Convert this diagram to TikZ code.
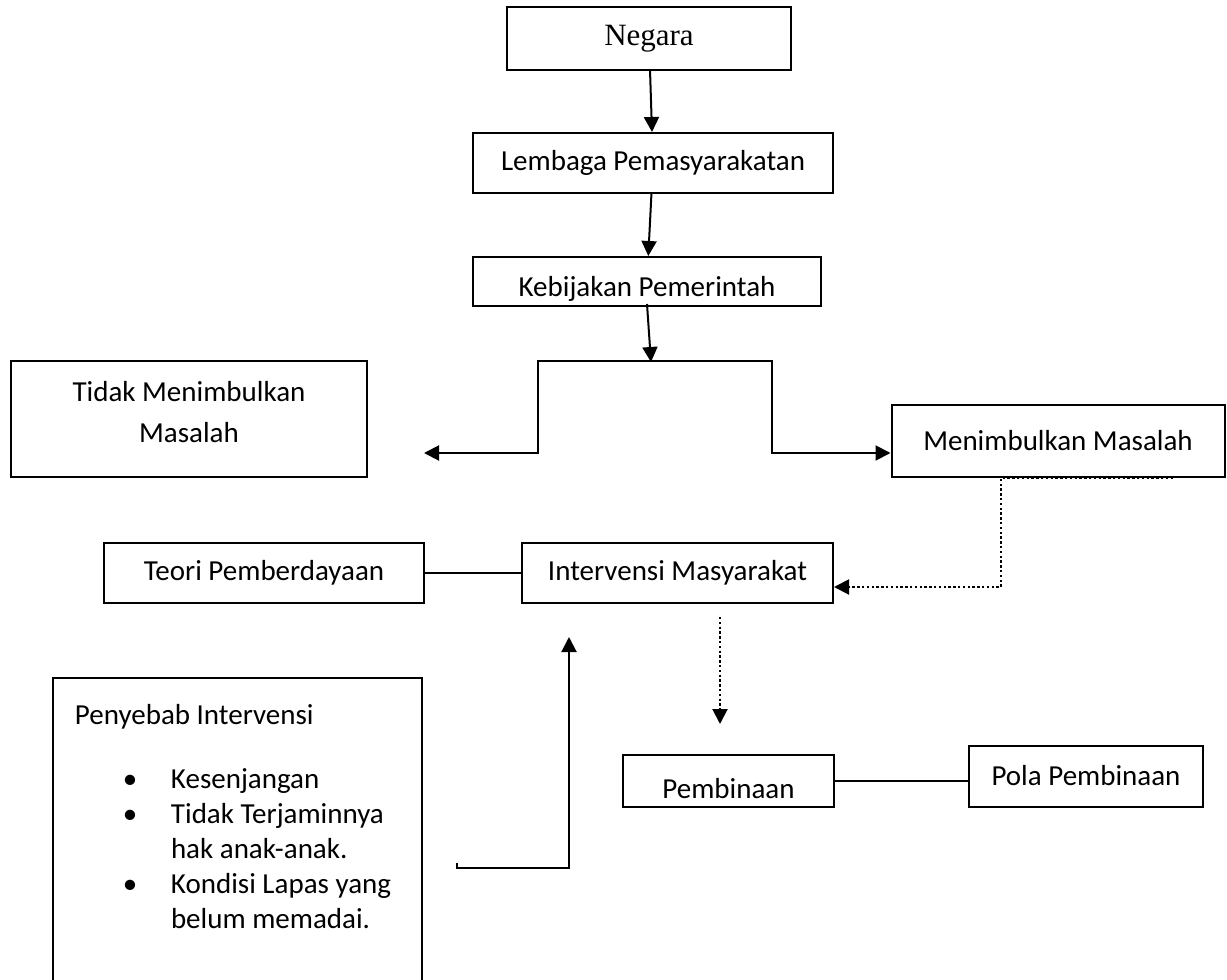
\documentclass[tikz,border=0pt]{standalone}
\usepackage{fontspec}
\setmainfont{Carlito}
\newfontfamily\negarafont{Liberation Serif}
\usepackage{tikz}
\usetikzlibrary{positioning,arrows.meta}

\begin{document}
\begin{tikzpicture}[->,>={Triangle[length=7.5pt,width=7.5pt]},x=0.5pt,y=-0.5pt,
                    line width=1pt]
  \tikzstyle{box}=[draw=black,text=black,rectangle,inner sep=0pt,
                   font=\fontsize{14.5}{17.5}\selectfont]
  \tikzstyle{dots}=[dash pattern=on 1.2pt off 1.2pt]

  \useasboundingbox (0,0) rectangle (1227,980);

  \node[box,minimum width=142pt,minimum height=31.5pt,
        font=\negarafont\fontsize{15.5}{18}\selectfont] (negara) at (649,38.5) {Negara};
  \node[box,minimum width=180pt,minimum height=30pt]   (lembaga)     at (653,163)   {Lembaga Pemasyarakatan};
  \node[box,minimum width=174pt,minimum height=24.5pt] (kebijakan)   at (647,281.5)
       {\raisebox{-3.5pt}[\height][\depth]{Kebijakan Pemerintah}};
  \node[box,minimum width=178pt,minimum height=58pt,
        font=\fontsize{14.5}{20.5}\selectfont]          (tidak)       at (189,419)
       {\raisebox{2.5pt}[\height][\depth]{\begin{tabular}{@{}c@{}}Tidak Menimbulkan\\Masalah\end{tabular}}};
  \node[box,minimum width=166.5pt,minimum height=36pt] (menimbulkan) at (1058,441)  {Menimbulkan Masalah};
  \node[box,minimum width=160pt,minimum height=30pt]   (teori)       at (264,573)   {Teori Pemberdayaan};
  \node[box,minimum width=155.5pt,minimum height=30pt] (intervensi)  at (677.5,573) {Intervensi Masyarakat};
  \node[box,minimum width=105.5pt,minimum height=26pt] (pembinaan)   at (728.5,781)
       {\raisebox{-4pt}[\height][\depth]{Pembinaan}};
  \node[box,minimum width=117pt,minimum height=30.5pt] (pola)        at (1086,776)  {Pola Pembinaan};
  \node[box,minimum width=184.5pt,minimum height=161pt] (penyebab)   at (237.5,839) {};
  \node[anchor=north west,inner sep=0pt,align=left,
        font=\fontsize{14.5}{17.5}\selectfont] (sebab) at (74,703)
       {Penyebab Intervensi\\[14.5pt]
        \hspace*{24pt}\makebox[24pt][l]{\textbullet}Kesenjangan\\
        \hspace*{24pt}\makebox[24pt][l]{\textbullet}Tidak Terjaminnya\\
        \hspace*{48pt}hak anak-anak.\\
        \hspace*{24pt}\makebox[24pt][l]{\textbullet}Kondisi Lapas yang\\
        \hspace*{48pt}belum memadai.};

  \coordinate (cabang) at (651,362);
  \coordinate (kiri)   at (424,453);
  \coordinate (turun1) at (720,617);
  \coordinate (turun2) at (720,724);
  \coordinate (naik1)  at (457,868);
  \coordinate (naik2)  at (569,637);

  % alur utama
  \draw (negara) -- (lembaga);
  \draw (lembaga) -- (kebijakan);
  \draw ([yshift=1.5pt]kebijakan.south) -- (cabang);
  \draw[<->] (kiri) -| (538,361) -| (772,453) -- (menimbulkan.west |- kiri);

  % hubungan
  \draw[dots] (1173,478) -- (1001,478) |- ([yshift=-7pt]intervensi.east);
  \draw[-] (teori) -- (intervensi);
  \draw[dots] (turun1) -- (turun2);
  \draw[-] (pembinaan.east) -- (pembinaan.east -| pola.west);
  \draw ([yshift=2.5pt]naik1) -- (naik1) -| (naik2);
\end{tikzpicture}
\end{document}
